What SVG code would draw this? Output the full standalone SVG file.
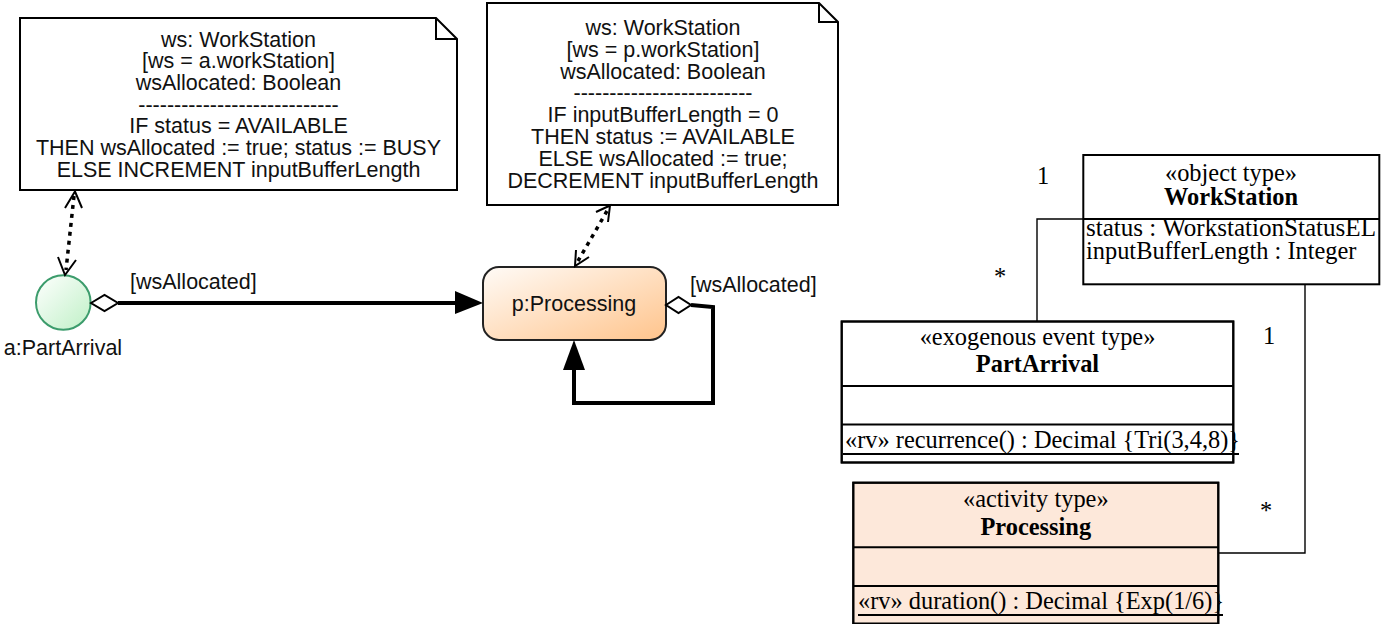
<svg xmlns="http://www.w3.org/2000/svg" width="1387" height="624" viewBox="0 0 1387 624">
<defs>
<linearGradient id="gProc" x1="0" y1="0" x2="1" y2="1">
<stop offset="0" stop-color="#fffbf7"/>
<stop offset="1" stop-color="#ffc48c"/>
</linearGradient>
<linearGradient id="gEvt" x1="0" y1="0" x2="1" y2="1">
<stop offset="0" stop-color="#ffffff"/>
<stop offset="1" stop-color="#bff0c6"/>
</linearGradient>
<style>
.note{fill:#fff;stroke:#000;stroke-width:2}
.nt{font-family:"Liberation Sans",Arial,sans-serif;font-size:21.5px;fill:#111;text-anchor:middle}
.lbl{font-family:"Liberation Sans",Arial,sans-serif;font-size:21.5px;fill:#111}
.uml{font-family:"Liberation Serif","Times New Roman",serif;font-size:24.4px;fill:#000}
.mid{text-anchor:middle}
.b{font-weight:bold}
.box{stroke:#000;stroke-width:2}
.dot{fill:none;stroke:#000;stroke-width:3.5;stroke-dasharray:4 5}
.open{fill:none;stroke:#000;stroke-width:2}
.flow{fill:none;stroke:#000;stroke-width:4}
.assoc{fill:none;stroke:#000;stroke-width:1.4}
</style>
</defs>

<g id="note1">
<path class="note" d="M20,18 H436 L457,39 V190 H20 Z"/>
<path class="open" d="M436,18 V39 H457"/>
<text class="nt" x="238.5" y="46.5">ws: WorkStation</text>
<text class="nt" x="238.5" y="68.2">[ws = a.workStation]</text>
<text class="nt" x="238.5" y="89.9">wsAllocated: Boolean</text>
<text class="nt" x="238.5" y="111.6">----------------------------</text>
<text class="nt" x="238.5" y="133.3">IF status = AVAILABLE</text>
<text class="nt" x="238.5" y="155">THEN wsAllocated := true; status := BUSY</text>
<text class="nt" x="238.5" y="176.7">ELSE INCREMENT inputBufferLength</text>
</g>

<g id="note2">
<path class="note" d="M487,3 H819 L838,22 V205 H487 Z"/>
<path class="open" d="M819,3 V22 H838"/>
<text class="nt" x="663" y="35">ws: WorkStation</text>
<text class="nt" x="663" y="56.8">[ws = p.workStation]</text>
<text class="nt" x="663" y="78.6">wsAllocated: Boolean</text>
<text class="nt" x="663" y="100.4">-------------------------</text>
<text class="nt" x="663" y="122.2">IF inputBufferLength = 0</text>
<text class="nt" x="663" y="144">THEN status := AVAILABLE</text>
<text class="nt" x="663" y="165.8">ELSE wsAllocated := true;</text>
<text class="nt" x="663" y="187.6">DECREMENT inputBufferLength</text>
</g>

<g id="partArrivalEvent">
<circle cx="63.3" cy="302.5" r="27.3" fill="url(#gEvt)" stroke="#3c9c6c" stroke-width="2"/>
<text class="lbl" x="63" y="355" text-anchor="middle" font-size="19.5px">a:PartArrival</text>
</g>

<g id="processingActivity">
<rect x="483" y="267" width="183" height="73" rx="16" ry="16" fill="url(#gProc)" stroke="#222" stroke-width="2"/>
<text class="lbl" x="574" y="311" text-anchor="middle">p:Processing</text>
</g>

<g id="connectors">
<path class="dot" d="M74,196 L66,270"/>
<path class="open" d="M65,208 L75,191.5 L82,208"/>
<path class="open" d="M58,257 L65,275 L76,260"/>
<path class="dot" d="M607,211 L578,261"/>
<path class="open" d="M596,212 L610,205.5 L608,222"/>
<path class="open" d="M576,250 L575,266 L589,257"/>
<path class="flow" d="M118,303 H457"/>
<path d="M91,303 L104.5,295 L118,303 L104.5,311 Z" fill="#fff" stroke="#000" stroke-width="2"/>
<path d="M455,291 L483,303 L455,314 Z" fill="#000"/>
<text class="lbl" x="130" y="289">[wsAllocated]</text>
<path class="flow" d="M691,305 L713,307 V403 H574 V368"/>
<path d="M666,305 L678.5,297 L691,305 L678.5,313 Z" fill="#fff" stroke="#000" stroke-width="2"/>
<path d="M574,340 L585,370 L563,370 Z" fill="#000"/>
<text class="lbl" x="690" y="292">[wsAllocated]</text>
<path class="assoc" d="M1083,219 H1037 V321"/>
<path class="assoc" d="M1305,284 V553 H1218"/>
<text class="uml mid" x="1043" y="184">1</text>
<text class="uml mid" x="1000" y="285">*</text>
<text class="uml mid" x="1269" y="344">1</text>
<text class="uml mid" x="1266" y="519">*</text>
</g>

<g id="WorkStation">
<rect class="box" x="1083.3" y="155" width="296" height="129.3" fill="#fff"/>
<line class="box" x1="1083.3" y1="219" x2="1379.3" y2="219"/>
<text class="uml mid" x="1231" y="181">«object type»</text>
<text class="uml mid b" x="1231" y="205">WorkStation</text>
<text class="uml" x="1086" y="236" textLength="290" lengthAdjust="spacingAndGlyphs">status : WorkstationStatusEL</text>
<text class="uml" x="1086" y="259">inputBufferLength : Integer</text>
</g>

<g id="PartArrival">
<rect class="box" x="841.7" y="321.5" width="391.6" height="141" fill="#fff"/>
<text class="uml mid" x="1037.5" y="345">«exogenous event type»</text>
<text class="uml mid b" x="1037.5" y="372">PartArrival</text>
<text class="uml" x="845" y="448">«rv» recurrence() : Decimal {Tri(3,4,8)}</text>
<line x1="843" y1="454" x2="1239" y2="454" stroke="#000" stroke-width="2"/>
<line class="box" x1="841.7" y1="386" x2="1233.3" y2="386"/>
<line class="box" x1="841.7" y1="424.5" x2="1233.3" y2="424.5"/>
<rect class="box" x="841.7" y="321.5" width="391.6" height="141" fill="none"/>
</g>

<g id="Processing">
<rect class="box" x="853.3" y="482.7" width="365" height="141" fill="#fde8da"/>
<text class="uml mid" x="1035.8" y="507">«activity type»</text>
<text class="uml mid b" x="1035.8" y="535">Processing</text>
<text class="uml" x="858" y="609">«rv» duration() : Decimal {Exp(1/6)}</text>
<line x1="858" y1="615" x2="1223" y2="615" stroke="#000" stroke-width="2"/>
<line class="box" x1="853.3" y1="547.3" x2="1218.3" y2="547.3"/>
<line class="box" x1="853.3" y1="586" x2="1218.3" y2="586"/>
<rect class="box" x="853.3" y="482.7" width="365" height="141" fill="none"/>
</g>
</svg>
